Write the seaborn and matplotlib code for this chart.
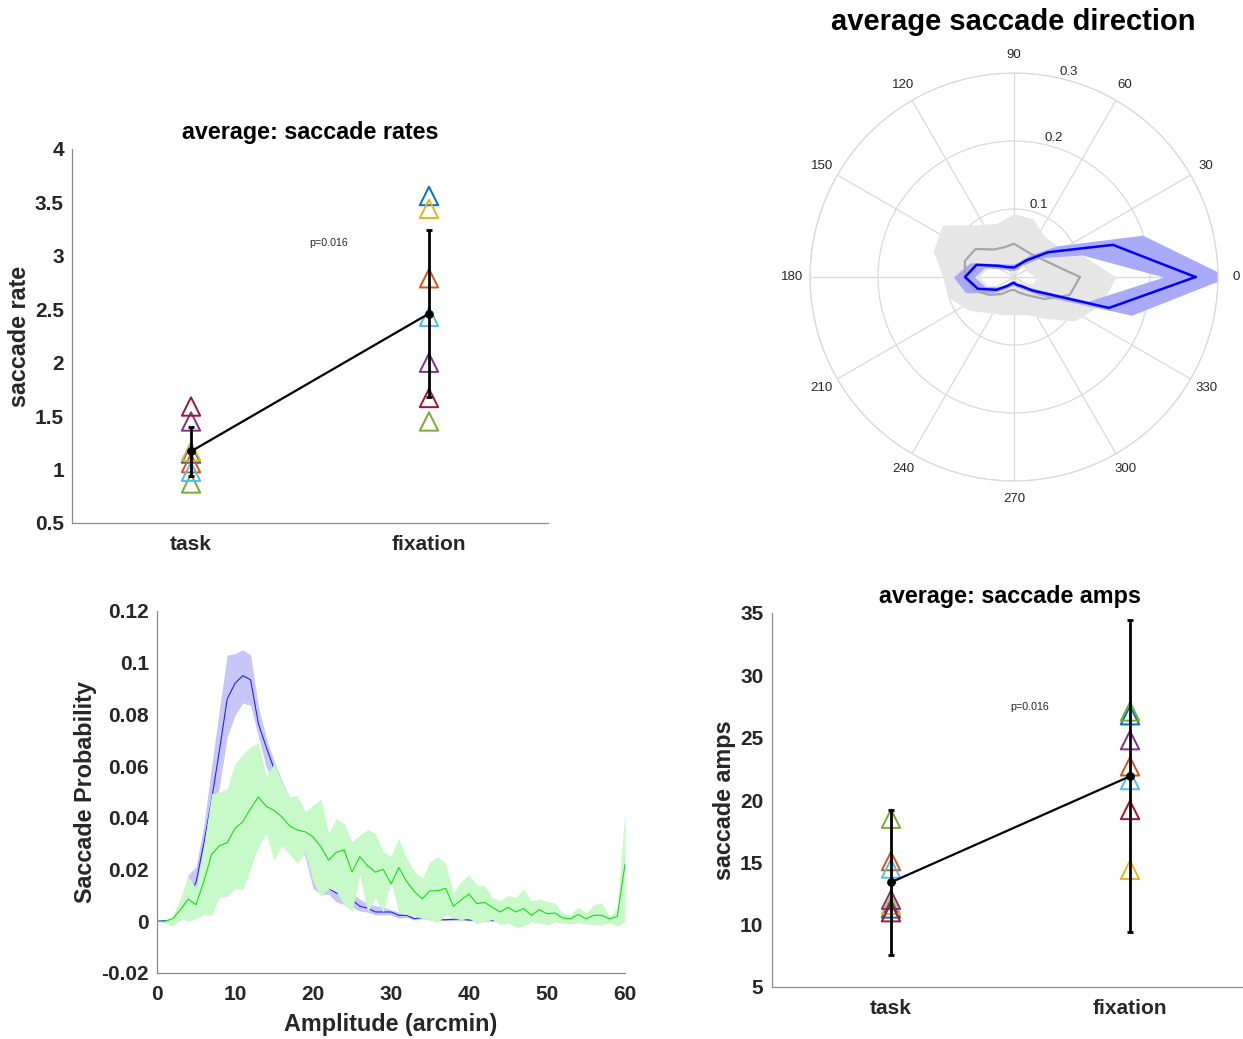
import numpy as np
import pandas as pd
import matplotlib
matplotlib.use("Agg")
import matplotlib.pyplot as plt
import seaborn as sns
from matplotlib.ticker import FuncFormatter

# ---------------- data ----------------
subject_colors = ['#0072BD', '#D95319', '#EDB120', '#7E2F8E', '#77AC30', '#4DBEEE', '#A2142F']
conditions = ['task', 'fixation']

# saccade rates per subject
rate_task = [1.15, 1.06, 1.17, 1.45, 0.87, 0.98, 1.59]
rate_fix = [3.56, 2.79, 3.44, 2.00, 1.45, 2.43, 1.67]
rate_mean = [1.17, 2.46]
rate_err = [0.23, 0.78]

# saccade amplitudes per subject
amp_task = [11.3, 15.1, 11.6, 12.0, 18.5, 14.5, 11.0]
amp_fix = [26.8, 22.7, 14.4, 24.8, 27.1, 21.6, 19.2]
amp_mean = [13.4, 21.9]
amp_err = [5.8, 12.5]

# amplitude distribution (arcmin bins)
amp_bins = list(range(0, 61))
task_prob = [0, 0.0002, 0.0005, 0.003, 0.010, 0.015, 0.030, 0.047, 0.066, 0.086,
             0.092, 0.095, 0.0934, 0.0764, 0.0674, 0.059, 0.0519, 0.0442, 0.0365, 0.0282,
             0.0205, 0.0154, 0.0128, 0.0109, 0.0103, 0.0083, 0.0058, 0.0051, 0.0036, 0.0036,
             0.0036, 0.0023, 0.0023, 0.0010, 0.0015, 0.0009, 0.0006, 0.0006, 0.0008, 0.0008,
             0.0005, 0.0004, 0.0003, 0.0003, 0.0002, 0.0003, 0.0002, 0.0003, 0.0002, 0.0002,
             0.0002, 0.0002, 0.0001, 0.0002, 0.0001, 0.0001, 0.0001, 0.0001, 0.0001, 0.0001,
             0.0001]
task_prob_hi = [0.0004, 0.0005, 0.001, 0.006, 0.018, 0.021, 0.037, 0.060, 0.082, 0.103,
                0.1035, 0.105, 0.103, 0.083, 0.071, 0.062, 0.0545, 0.048, 0.040, 0.032,
                0.024, 0.0185, 0.0155, 0.016, 0.015, 0.011, 0.0085, 0.007, 0.006, 0.0055,
                0.0045, 0.0035, 0.003, 0.0015, 0.002, 0.0013, 0.001, 0.001, 0.0012, 0.0012,
                0.0008, 0.0007, 0.0006, 0.0006, 0.0005, 0.0006, 0.0005, 0.0006, 0.0005, 0.0005,
                0.0005, 0.0005, 0.0004, 0.0005, 0.0004, 0.0004, 0.0004, 0.0004, 0.0004, 0.0004,
                0.0004]
task_prob_lo = [0, 0, 0, 0.0005, 0.004, 0.010, 0.022, 0.036, 0.052, 0.0713,
                0.0797, 0.0844, 0.0835, 0.0713, 0.0597, 0.0532, 0.046, 0.038, 0.030, 0.025,
                0.0128, 0.0103, 0.0105, 0.0075, 0.0065, 0.0055, 0.004, 0.0035, 0.0025, 0.0025,
                0.0025, 0.0012, 0.0015, 0.0005, 0.001, 0.0005, 0.0003, 0.0003, 0.0003, 0.0003,
                0.0003, 0, 0, 0, 0, 0, 0, 0, 0, 0,
                0, 0, 0, 0, 0, 0, 0, 0, 0, 0,
                0]
fix_prob = [0, 0, 0.001, 0.0045, 0.0086, 0.0064, 0.0154, 0.0259, 0.0292, 0.0304,
            0.0359, 0.0385, 0.0436, 0.0481, 0.0445, 0.0429, 0.0404, 0.0369, 0.0353, 0.0346,
            0.0327, 0.0288, 0.0237, 0.0267, 0.0276, 0.0190, 0.0250, 0.0215, 0.0190, 0.0201,
            0.0144, 0.0208, 0.0154, 0.0115, 0.0087, 0.0118, 0.0118, 0.0128, 0.0058, 0.0083,
            0.0105, 0.0068, 0.0073, 0.0054, 0.0036, 0.0054, 0.0036, 0.0049, 0.0023, 0.0045,
            0.0029, 0.0032, 0.0013, 0.0010, 0.0026, 0.0010, 0.0023, 0.0023, 0.0010, 0.0018,
            0.0221]
fix_prob_hi = [0, 0.0003, 0.002, 0.0090, 0.0173, 0.0128, 0.0295, 0.0494, 0.0500, 0.0513,
               0.0610, 0.0645, 0.0675, 0.0690, 0.0560, 0.0610, 0.0538, 0.0481, 0.0487, 0.0423,
               0.0449, 0.0474, 0.0340, 0.0397, 0.0378, 0.0308, 0.0333, 0.0355, 0.0340, 0.0269,
               0.0250, 0.0321, 0.0244, 0.0192, 0.0167, 0.0231, 0.0250, 0.0224, 0.0109, 0.0154,
               0.0179, 0.0141, 0.0137, 0.0090, 0.0079, 0.0100, 0.0092, 0.0122, 0.0079, 0.0087,
               0.0077, 0.0071, 0.0032, 0.0026, 0.0054, 0.0032, 0.0064, 0.0071, 0.0019, 0.0051,
               0.0429]
fix_prob_lo = [0, -0.0006, -0.0019, 0.0010, 0, 0.0010, 0.0026, 0.0023, 0.0092, 0.0096,
               0.0126, 0.0122, 0.0205, 0.0290, 0.0340, 0.0236, 0.0292, 0.0259, 0.0224, 0.0269,
               0.0154, 0.0096, 0.0128, 0.0115, 0.0064, 0.0038, 0.0179, 0.0038, 0.0090, 0.0036,
               0.0154, 0.0032, 0.0026, 0.0019, 0.0013, 0.0006, -0.0006, 0.0026, 0.0013, 0.0006,
               0.0013, -0.0010, 0, 0.0006, -0.0013, -0.0006, -0.0023, -0.0019, -0.0003, -0.0006,
               -0.0013, -0.0003, -0.0006, -0.0010, -0.0006, -0.0010, -0.0013, -0.0013, -0.0006, -0.0019,
               0]

# saccade direction (deg) distribution
dir_deg = [0, 18, 36, 54, 72, 90, 108, 126, 144, 162,
           180, 198, 216, 234, 252, 270, 288, 306, 324, 342]
fix_dir = [0.267, 0.153, 0.062, 0.030, 0.018, 0.014, 0.015, 0.018, 0.028, 0.058,
           0.072, 0.056, 0.032, 0.016, 0.010, 0.0085, 0.012, 0.016, 0.034, 0.147]
fix_dir_hi = [0.315, 0.199, 0.078, 0.040, 0.024, 0.019, 0.020, 0.024, 0.034, 0.068,
              0.089, 0.075, 0.040, 0.022, 0.014, 0.012, 0.016, 0.022, 0.045, 0.182]
fix_dir_lo = [0.220, 0.105, 0.048, 0.022, 0.012, 0.009, 0.010, 0.012, 0.020, 0.045,
              0.058, 0.045, 0.025, 0.011, 0.006, 0.005, 0.008, 0.011, 0.025, 0.115]
task_dir = [0.097, 0.060, 0.047, 0.042, 0.043, 0.049, 0.046, 0.050, 0.070, 0.076,
            0.072, 0.062, 0.045, 0.031, 0.021, 0.019, 0.024, 0.033, 0.055, 0.086]
task_dir_hi = [0.150, 0.105, 0.078, 0.075, 0.090, 0.093, 0.083, 0.095, 0.130, 0.125,
               0.105, 0.100, 0.083, 0.065, 0.058, 0.055, 0.058, 0.075, 0.110, 0.134]
task_dir_lo = [0.033, 0.022, 0.020, 0.022, 0.020, 0.020, 0.018, 0.018, 0.025, 0.040,
               0.052, 0.040, 0.020, 0.008, 0.004, 0.004, 0.004, 0.008, 0.015, 0.030]

# ---------------- style ----------------
sns.set_theme(style='white')
plt.rcParams['font.family'] = ['Liberation Sans', 'DejaVu Sans']
TXT = '#262626'
AXC = '#8a8a8a'

fig = plt.figure(figsize=(12.43, 10.39), dpi=100)


def style_cart(ax):
    for s in ['top', 'right']:
        ax.spines[s].set_visible(False)
    for s in ['left', 'bottom']:
        ax.spines[s].set_color(AXC)
        ax.spines[s].set_linewidth(0.9)
    ax.tick_params(axis='both', direction='in', length=4, width=0.8, color=AXC,
                   labelcolor=TXT, labelsize=15)
    ax.tick_params(axis='x', pad=9)
    ax.tick_params(axis='y', pad=5.8)
    for lab in ax.get_xticklabels() + ax.get_yticklabels():
        lab.set_fontweight('bold')
    ax.set_facecolor('white')
    ax.grid(False)


conditions_x = [1, 2]


def subject_panel(ax, task_vals, fix_vals, means, errs, ylim, yticks, title, ylabel, ptxt_xy):
    for i, c in enumerate(subject_colors):
        ax.scatter(conditions_x, [task_vals[i], fix_vals[i]], marker='^', s=175,
                   facecolors='none', edgecolors=c, linewidths=1.4, zorder=3)
    df = pd.DataFrame({'x': conditions_x, 'y': means})
    sns.lineplot(data=df, x='x', y='y', ax=ax, color='black', lw=1.6, marker='o',
                 markersize=5.5, markeredgecolor='black', errorbar=None, zorder=4)
    ax.errorbar(conditions_x, means, yerr=errs, fmt='none', ecolor='black',
                elinewidth=2.0, capsize=2, capthick=2.0, zorder=5)
    ax.set_xlim(0.5, 2.5)
    ax.set_ylim(*ylim)
    ax.set_xticks(conditions_x)
    ax.set_xticklabels(conditions)
    ax.set_yticks(yticks)
    ax.yaxis.set_major_formatter(FuncFormatter(lambda v, p: '%g' % v))
    ax.set_xlabel('')
    ax.set_ylabel(ylabel, fontsize=16.8, fontweight='bold', color=TXT, labelpad=3)
    ax.set_title(title, fontsize=16.8, fontweight='bold', color='black', pad=7)
    ax.text(ptxt_xy[0], ptxt_xy[1], 'p=0.016', fontsize=7.7, color=TXT,
            ha='center', va='center')
    style_cart(ax)


# ---- top-left: saccade rates ----
ax1 = fig.add_axes([72 / 1243, 1 - 523 / 1039, 476 / 1243, 374 / 1039])
subject_panel(ax1, rate_task, rate_fix, rate_mean, rate_err, (0.5, 4.0),
              [0.5, 1, 1.5, 2, 2.5, 3, 3.5, 4], 'average: saccade rates',
              'saccade rate', (1.58, 3.12))

# ---- bottom-right: saccade amps ----
ax4 = fig.add_axes([771.5 / 1243, 1 - 987 / 1039, 478 / 1243, 374 / 1039])
subject_panel(ax4, amp_task, amp_fix, amp_mean, amp_err, (5, 35),
              [5, 10, 15, 20, 25, 30, 35], 'average: saccade amps',
              'saccade amps', (1.58, 27.45))

# ---- bottom-left: amplitude distribution ----
ax3 = fig.add_axes([157 / 1243, 1 - 973 / 1039, 468 / 1243, 362 / 1039])
dist_df = pd.DataFrame({
    'amp': amp_bins * 2,
    'prob': task_prob + fix_prob,
    'cond': ['task'] * len(amp_bins) + ['fixation'] * len(amp_bins),
})
ax3.fill_between(amp_bins, task_prob_lo, task_prob_hi, color='#c6c6f8', lw=0, zorder=1)
sns.lineplot(data=dist_df[dist_df.cond == 'task'], x='amp', y='prob', ax=ax3,
             color='#2222ff', lw=0.8, errorbar=None, zorder=2)
ax3.fill_between(amp_bins, fix_prob_lo, fix_prob_hi, color='#c8f9c8', lw=0, zorder=3)
sns.lineplot(data=dist_df[dist_df.cond == 'fixation'], x='amp', y='prob', ax=ax3,
             color='#18dd18', lw=0.8, errorbar=None, zorder=4)
ax3.set_xlim(0, 60)
ax3.set_ylim(-0.02, 0.12)
ax3.set_xticks([0, 10, 20, 30, 40, 50, 60])
ax3.set_yticks([-0.02, 0, 0.02, 0.04, 0.06, 0.08, 0.1, 0.12])
ax3.yaxis.set_major_formatter(FuncFormatter(lambda v, p: '%g' % round(v, 3)))
ax3.set_xlabel('Amplitude (arcmin)', fontsize=16.8, fontweight='bold', color=TXT, labelpad=6)
ax3.set_ylabel('Saccade Probability', fontsize=16.8, fontweight='bold', color=TXT, labelpad=3)
style_cart(ax3)

# ---- top-right: polar direction ----
R = 204
axp = fig.add_axes([(1014 - R) / 1243, 1 - (277 + R) / 1039, 2 * R / 1243, 2 * R / 1039],
                   projection='polar')
th = np.deg2rad(dir_deg + [dir_deg[0] + 360])


def closed(v):
    return list(v) + [v[0]]


axp.fill_between(th, closed(task_dir_lo), closed(task_dir_hi), color='#e6e6e6', lw=0, zorder=1)
axp.fill_between(th, closed(fix_dir_lo), closed(fix_dir_hi), color='#aaaafb', lw=0, zorder=2)
axp.plot(th, closed(task_dir), color='#a6a6a6', lw=1.6, zorder=3)
axp.plot(th, closed(fix_dir), color='#0000ff', lw=1.8, zorder=4)
axp.set_ylim(0, 0.3)
axp.set_rgrids([0.1, 0.2, 0.3], labels=['0.1', '0.2', '0.3'], angle=77,
               fontsize=9.5, color=TXT)
axp.set_thetagrids(list(range(0, 360, 30)), labels=[str(a) for a in range(0, 360, 30)],
                   fontsize=9.5, color=TXT)
axp.tick_params(axis='x', pad=0)
axp.grid(True, color='#d9d9d9', lw=0.9)
axp.spines['polar'].set_color('#d9d9d9')
axp.spines['polar'].set_linewidth(0.9)
axp.set_facecolor('white')
fig.text(1013 / 1243, 1 - 22 / 1039, 'average saccade direction', fontsize=21,
         fontweight='bold', color='black', ha='center', va='center')

fig.savefig('out.png', dpi=100, facecolor='white')
